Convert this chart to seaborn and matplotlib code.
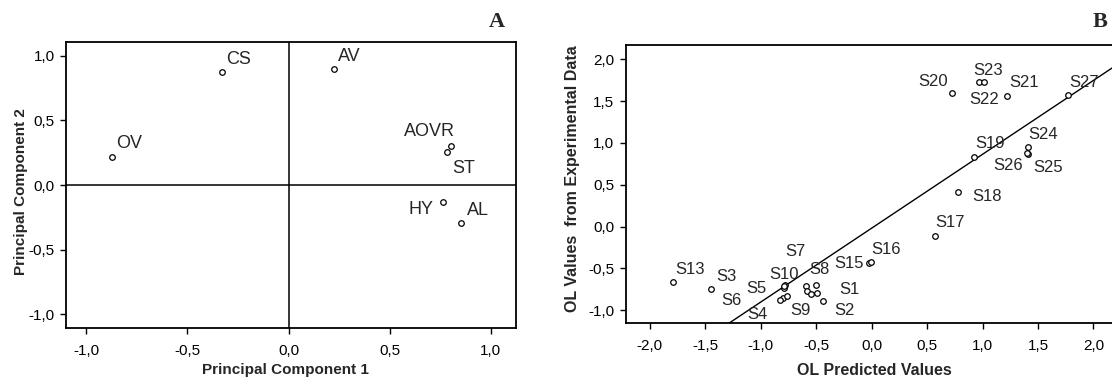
import matplotlib
matplotlib.use("Agg")
import pandas as pd
import matplotlib.pyplot as plt
import seaborn as sns
from matplotlib.ticker import FuncFormatter, MultipleLocator

# Panel A: loadings on the first two principal components
pca_vars = ["OV", "CS", "AV", "AOVR", "ST", "HY", "AL"]
pc1 = [-0.873, -0.328, 0.223, 0.805, 0.782, 0.765, 0.855]
pc2 = [0.219, 0.872, 0.898, 0.305, 0.253, -0.134, -0.292]

# Panel B: predicted vs experimental OL values
samples = ["S1", "S2", "S3", "S4", "S5", "S6", "S7", "S8", "S9", "S10",
           "S11", "S12", "S13", "S14", "S15", "S16", "S17", "S18", "S19",
           "S20", "S21", "S22", "S23", "S24", "S25", "S26", "S27"]
ol_pred = [-0.495, -0.434, -1.450, -0.796, -0.790, -0.826, -0.777, -0.505,
           -0.766, -0.786, -0.592, -0.580, -1.787, -0.550, -0.020, -0.008,
           0.573, 0.783, 0.923, 0.726, 1.216, 0.964, 1.009, 1.407, 1.407,
           1.400, 1.766]
ol_exp = [-0.789, -0.884, -0.748, -0.855, -0.738, -0.876, -0.703, -0.700,
          -0.828, -0.714, -0.712, -0.765, -0.664, -0.800, -0.430, -0.424,
          -0.112, 0.410, 0.837, 1.598, 1.566, 1.725, 1.725, 0.956, 0.869,
          0.875, 1.574]

# label placement, pixel offsets (left edge, vertical centre) from each point
offs_a = {"OV": (4, 13), "CS": (4, 13), "AV": (4, 13), "AOVR": (-47, 14),
          "ST": (5, -16), "HY": (-35, -7), "AL": (5, 12)}
offs_b = {"S1": (23, 3), "S2": (11, -10), "S3": (6, 13), "S4": (-36, -16),
          "S5": (-38, 0), "S6": (-59, -1), "S7": (0, 34), "S8": (-6, 16),
          "S9": (4, -15), "S10": (-15, 12), "S13": (2, 13), "S15": (-35, -1),
          "S16": (1, 13), "S17": (0, 14), "S18": (14, -4), "S19": (1, 13),
          "S20": (-34, 11), "S21": (3, 13), "S22": (-9, -17), "S23": (-10, 12),
          "S24": (1, 12), "S25": (6, -14), "S26": (-34, -12), "S27": (2, 12)}

df_a = pd.DataFrame({"var": pca_vars, "pc1": pc1, "pc2": pc2})
df_b = pd.DataFrame({"sample": samples, "pred": ol_pred, "exp": ol_exp})

sns.set_style("ticks")
plt.rcParams["font.family"] = ["Liberation Sans", "DejaVu Sans"]

comma = FuncFormatter(lambda v, p: f"{v:.1f}".replace(".", ",").replace("\u2212", "-"))


def style_axes(ax):
    for sp in ax.spines.values():
        sp.set_linewidth(1.3)
        sp.set_color("black")
    ax.tick_params(direction="out", length=4, width=1, pad=4,
                   labelsize=11, color="black", labelcolor="black")
    ax.tick_params(axis="x", pad=7)
    ax.xaxis.set_major_formatter(comma)
    ax.yaxis.set_major_formatter(comma)
    ax.xaxis.label.set_va("center")
    ax.yaxis.label.set_va("center")


fig = plt.figure(figsize=(11.12, 3.79), dpi=100)
ax_a = fig.add_axes([0.0594, 0.1338, 0.4047, 0.756])
ax_b = fig.add_axes([0.5625, 0.147, 0.449, 0.734])

# --- panel A
ax_a.set_xlim(-1.1, 1.125)
ax_a.set_ylim(-1.11, 1.11)
ax_a.axhline(0, color="black", lw=1.1, zorder=1)
ax_a.axvline(0, color="black", lw=1.1, zorder=1)
sns.scatterplot(data=df_a, x="pc1", y="pc2", ax=ax_a, marker="o", s=16,
                facecolor="white", edgecolor="black", linewidth=0.9, zorder=3)
for _, r in df_a.iterrows():
    dx, dy = offs_a[r["var"]]
    ax_a.annotate(r["var"], (r["pc1"], r["pc2"]), xytext=(dx, dy),
                  textcoords="offset pixels", ha="left", va="center", fontsize=13)
ax_a.xaxis.set_major_locator(MultipleLocator(0.5))
ax_a.yaxis.set_major_locator(MultipleLocator(0.5))
ax_a.set_xlabel("Principal Component 1", fontsize=11, fontweight="bold")
ax_a.set_ylabel("Principal Component 2", fontsize=11, fontweight="bold")
style_axes(ax_a)
ax_a.xaxis.set_label_coords(0.487, -0.1455)
ax_a.yaxis.set_label_coords(-0.1007, 0.477)

# --- panel B
ax_b.set_xlim(-2.218, 2.282)
ax_b.set_ylim(-1.155, 2.17)
sns.regplot(data=df_b, x="pred", y="exp", ax=ax_b, scatter=False, ci=None,
            truncate=False, line_kws={"color": "black", "lw": 1.0})
sns.scatterplot(data=df_b, x="pred", y="exp", ax=ax_b, marker="o", s=16,
                facecolor="white", edgecolor="black", linewidth=0.9, zorder=3)
for _, r in df_b.iterrows():
    if r["sample"] not in offs_b:
        continue
    dx, dy = offs_b[r["sample"]]
    ax_b.annotate(r["sample"], (r["pred"], r["exp"]), xytext=(dx, dy),
                  textcoords="offset pixels", ha="left", va="center", fontsize=12)
ax_b.set_xlim(-2.218, 2.282)
ax_b.set_ylim(-1.155, 2.17)
ax_b.xaxis.set_major_locator(MultipleLocator(0.5))
ax_b.yaxis.set_major_locator(MultipleLocator(0.5))
ax_b.set_xlabel("OL Predicted Values", fontsize=11.5, fontweight="bold")
ax_b.set_ylabel("OL Values  from Experimental Data", fontsize=11.5, fontweight="bold")
style_axes(ax_b)
ax_b.xaxis.set_label_coords(0.4985, -0.168)
ax_b.yaxis.set_label_coords(-0.1065, 0.52)

# panel letters
fig.text(496.5 / 1112, 1 - 22 / 379, "A", fontsize=16, fontweight="bold",
         family=["Liberation Serif", "DejaVu Serif"], ha="center", va="center")
fig.text(1100 / 1112, 1 - 22 / 379, "B", fontsize=16, fontweight="bold",
         family=["Liberation Serif", "DejaVu Serif"], ha="center", va="center")

fig.savefig("out.png", dpi=100)
